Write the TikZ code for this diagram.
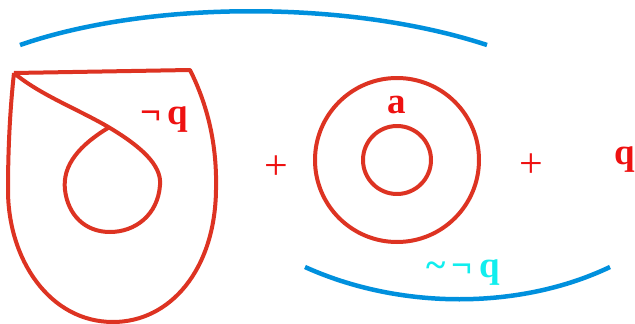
\documentclass[tikz,border=0pt]{standalone}
\usepackage{fontspec}
\setmainfont{Liberation Serif}
\definecolor{linered}{HTML}{DD3322}
\definecolor{textred}{HTML}{EE1111}
\definecolor{arcblue}{HTML}{0090DD}
\definecolor{textcyan}{HTML}{11EEEE}
\tikzset{
  redline/.style={draw=linered, line width=4pt, line join=round},
  blueline/.style={draw=arcblue, line width=4.5pt},
  lbl/.style={text=textred, font=\fontsize{37}{37}\selectfont\bfseries, inner sep=0pt},
  plus/.style={text=textred, font=\fontsize{42}{42}\selectfont, inner sep=0pt}
}
\begin{document}
\begin{tikzpicture}[x=1pt, y=-1pt]
            \useasboundingbox (0,0) rectangle (635,324);
            %arcs
            \draw[blueline] (20,45) .. controls (150,0) and (350,0) .. (487,45);
            \draw[blueline] (305,267) .. controls (400,310) and (520,310) .. (610,267);

            %left shape
            \draw[redline] (14,73) -- (190,70) .. controls (210,110) and (217,150) .. (216,190)
              .. controls (215,270) and (170,322) .. (113,322)
              .. controls (50,322) and (8,260) .. (8,190)
              .. controls (8,140) and (11,100) .. (14,73);
            \draw[redline] (14,73) .. controls (40,95) and (80,110) .. (110,128)
              .. controls (140,146) and (162,165) .. (160,185)
              .. controls (158,215) and (135,232) .. (110,232)
              .. controls (85,232) and (68,215) .. (65,190)
              .. controls (62,165) and (80,145) .. (108,128);

            %circles
            \draw[redline] (397,160) circle (82);
            \draw[redline] (397,160) circle (34);

            %labels
            \node (nq) at (164,120) [lbl] {¬\,q};
            \node (a) at (397,105) [lbl] {a};
            \node (p1) at (276,168) [plus] {+};
            \node (p2) at (531,166) [plus] {+};
            \node (q) at (625,160) [lbl] {q};
            \node (tnq) at (463,273) [lbl, text=textcyan] {\textasciitilde\,¬\,q};
\end{tikzpicture}
\end{document}
